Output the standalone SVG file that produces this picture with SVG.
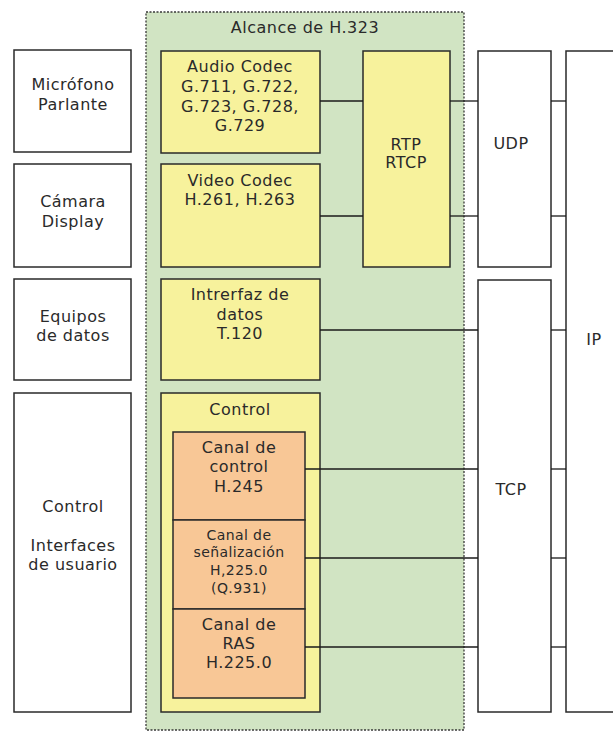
<svg xmlns="http://www.w3.org/2000/svg" width="613" height="732" viewBox="0 0 613 732">
<style>
  text { font-family: "DejaVu Sans", "Liberation Sans", Arial, sans-serif; font-size: 16px; letter-spacing: 0.5px; fill: #2a2a2a; text-anchor: middle; }
  .sm { font-size: 14px; letter-spacing: 0.4px; }
  .box { fill: #ffffff; stroke: #2a2a2a; stroke-width: 1.5; }
  .yel { fill: #f7f29c; stroke: #2a2a2a; stroke-width: 1.5; }
  .org { fill: #f8c796; stroke: #2a2a2a; stroke-width: 1.5; }
  .scope { fill: #d1e4c3; stroke: #3a3a3a; stroke-width: 1.3; stroke-dasharray: 2 1.5; }
  .conn line { stroke: #1a1a1a; stroke-width: 1.3; }
</style>
<rect width="613" height="732" fill="#ffffff"/>

<g id="scope">
  <rect class="scope" x="146" y="12" width="318" height="718"/>
  <text x="305" y="33">Alcance de H.323</text>
</g>

<g id="microfono">
  <rect class="box" x="14" y="50" width="117" height="102"/>
  <text x="73" y="90">Micrófono</text>
  <text x="73" y="110">Parlante</text>
</g>
<g id="camara">
  <rect class="box" x="14" y="164" width="117" height="103"/>
  <text x="73" y="207">Cámara</text>
  <text x="73" y="227">Display</text>
</g>
<g id="equipos">
  <rect class="box" x="14" y="279" width="117" height="101"/>
  <text x="73" y="322">Equipos</text>
  <text x="73" y="341">de datos</text>
</g>
<g id="control-ui">
  <rect class="box" x="14" y="393" width="117" height="319"/>
  <text x="73" y="512">Control</text>
  <text x="73" y="551">Interfaces</text>
  <text x="73" y="570">de usuario</text>
</g>

<g id="audio">
  <rect class="yel" x="161" y="51" width="159" height="102"/>
  <text x="240" y="72">Audio Codec</text>
  <text x="240" y="92">G.711, G.722,</text>
  <text x="240" y="112">G.723, G.728,</text>
  <text x="240" y="131">G.729</text>
</g>
<g id="video">
  <rect class="yel" x="161" y="164" width="159" height="103"/>
  <text x="240" y="186">Video Codec</text>
  <text x="240" y="205">H.261, H.263</text>
</g>
<g id="datos">
  <rect class="yel" x="161" y="279" width="159" height="101"/>
  <text x="240" y="300">Intrerfaz de</text>
  <text x="240" y="320">datos</text>
  <text x="240" y="339">T.120</text>
</g>
<g id="rtp">
  <rect class="yel" x="363" y="51" width="87" height="216"/>
  <text x="406" y="150">RTP</text>
  <text x="406" y="168">RTCP</text>
</g>
<g id="control">
  <rect class="yel" x="161" y="393" width="159" height="319"/>
  <text x="240" y="415">Control</text>
</g>
<g id="canal-control">
  <rect class="org" x="173" y="432" width="132" height="88"/>
  <text x="239" y="453">Canal de</text>
  <text x="239" y="472">control</text>
  <text x="239" y="492">H.245</text>
</g>
<g id="canal-senal">
  <rect class="org" x="173" y="520" width="132" height="89"/>
  <text class="sm" x="239" y="540">Canal de</text>
  <text class="sm" x="239" y="557">señalización</text>
  <text class="sm" x="239" y="575">H,225.0</text>
  <text class="sm" x="239" y="593">(Q.931)</text>
</g>
<g id="canal-ras">
  <rect class="org" x="173" y="609" width="132" height="89"/>
  <text x="239" y="630">Canal de</text>
  <text x="239" y="649">RAS</text>
  <text x="239" y="668">H.225.0</text>
</g>

<g id="udp">
  <rect class="box" x="478" y="51" width="73" height="216"/>
  <text x="511" y="149">UDP</text>
</g>
<g id="tcp">
  <rect class="box" x="478" y="280" width="73" height="432"/>
  <text x="511" y="495">TCP</text>
</g>
<g id="ip">
  <rect class="box" x="566" y="51" width="60" height="661"/>
  <text x="594" y="345">IP</text>
</g>

<g class="conn" id="connectors">
  <line x1="320" y1="101" x2="363" y2="101"/>
  <line x1="450" y1="101" x2="478" y2="101"/>
  <line x1="551" y1="101" x2="566" y2="101"/>
  <line x1="320" y1="216" x2="363" y2="216"/>
  <line x1="450" y1="216" x2="478" y2="216"/>
  <line x1="551" y1="216" x2="566" y2="216"/>
  <line x1="320" y1="330" x2="478" y2="330"/>
  <line x1="551" y1="330" x2="566" y2="330"/>
  <line x1="305" y1="469" x2="478" y2="469"/>
  <line x1="551" y1="469" x2="566" y2="469"/>
  <line x1="305" y1="558" x2="478" y2="558"/>
  <line x1="551" y1="558" x2="566" y2="558"/>
  <line x1="305" y1="647" x2="478" y2="647"/>
  <line x1="551" y1="647" x2="566" y2="647"/>
</g>
</svg>
